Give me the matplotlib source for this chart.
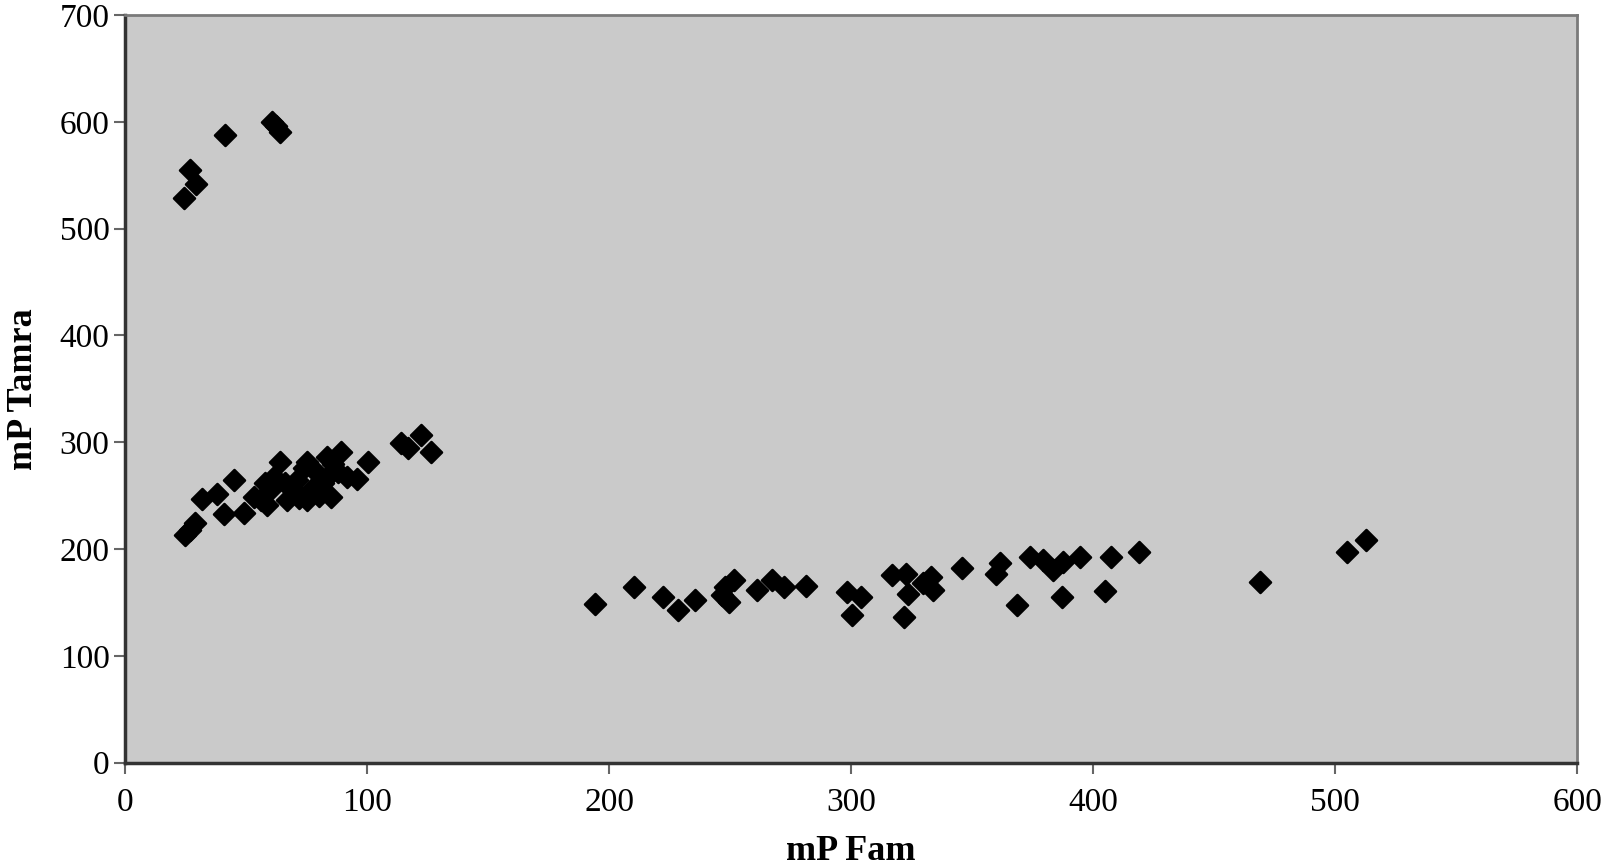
import matplotlib
matplotlib.use("Agg")
import matplotlib.pyplot as plt

# Data (mP Fam, mP Tamra)
upper_fam = [24.2, 26.9, 29.3, 41.2, 60.8, 62.5, 64.2]
upper_tamra = [529, 555, 542, 588, 600, 596, 591]

middle_fam = [24.9, 27, 29, 31.8, 38, 41, 44.9, 49, 53.2, 56, 58.7, 60, 61.5, 64.2,
              67, 70, 71.2, 74, 75.3, 75.3, 78, 79.4, 80, 82, 83.6, 85, 86, 88,
              89.1, 91.9, 96, 100.2, 114, 117, 122.3, 126.4, 66, 72, 58, 84]
middle_tamra = [213, 218, 224, 246.5, 251.5, 232.7, 265, 234, 249, 246, 241, 255, 267.7, 281.8,
                245.9, 255, 264.6, 276, 281.8, 245.9, 258, 271, 250, 262, 286.5, 249, 280, 272,
                291, 267.7, 266, 281.8, 299, 295, 306.8, 291, 262, 248, 262, 268]

lower_fam = [194.1, 210.2, 222.1, 228.3, 235.5, 246.6, 251.4, 249.4, 248, 261.1, 267.3,
             272.1, 281.4, 298.4, 303.9, 300.5, 317, 322.5, 323.3, 321.9, 332.9, 333.6,
             329.5, 345.8, 361.3, 359.6, 368.6, 373.7, 379.2, 383.3, 387.5, 386.9, 394.4,
             405, 407.5, 419, 468.7, 504.9, 512.5]
lower_tamra = [148.3, 164.5, 155.1, 142.6, 152, 156.7, 171.4, 150.4, 164.5, 161.4, 170.8,
               164.5, 165.1, 159.8, 155.1, 138, 175.5, 177, 158.3, 136.3, 173.9, 161.4,
               167.7, 182.3, 186.5, 177, 147.3, 192.6, 189.5, 180.2, 188, 155.1, 192.6,
               161, 192.7, 197.5, 169.2, 197.3, 208.3]

x_ticks = [0, 100, 200, 300, 400, 500, 600]
y_ticks = [0, 100, 200, 300, 400, 500, 600, 700]

fig = plt.figure(figsize=(16.02, 8.68), dpi=100)
ax = fig.add_axes([0.078, 0.1215, 0.9067, 0.861])
ax.set_facecolor("#cacaca")

fam = upper_fam + middle_fam + lower_fam
tamra = upper_tamra + middle_tamra + lower_tamra
ax.scatter(fam, tamra, marker="D", s=115, c="black", edgecolors="black",
           linewidths=1.8, joinstyle="round", zorder=3)

ax.set_xlim(0, 600)
ax.set_ylim(0, 700)
ax.set_xticks(x_ticks)
ax.set_yticks(y_ticks)

serif = ["Liberation Serif", "DejaVu Serif"]
for lab in ax.get_xticklabels() + ax.get_yticklabels():
    lab.set_fontfamily(serif)
    lab.set_fontsize(24)
ax.tick_params(axis="both", direction="out", length=8, width=1.5, color="#666666", pad=3)
ax.tick_params(axis="x", pad=10)

ax.set_xlabel("mP Fam", fontfamily=serif, fontsize=26, fontweight="bold", labelpad=12)
ax.set_ylabel("mP Tamra", fontfamily=serif, fontsize=26, fontweight="bold", labelpad=14)

for side in ["left", "bottom"]:
    ax.spines[side].set_color("#333333")
    ax.spines[side].set_linewidth(2.5)
for side in ["top", "right"]:
    ax.spines[side].set_color("#7a7a7a")
    ax.spines[side].set_linewidth(2.0)

fig.savefig("out.png", dpi=100, facecolor="white")
